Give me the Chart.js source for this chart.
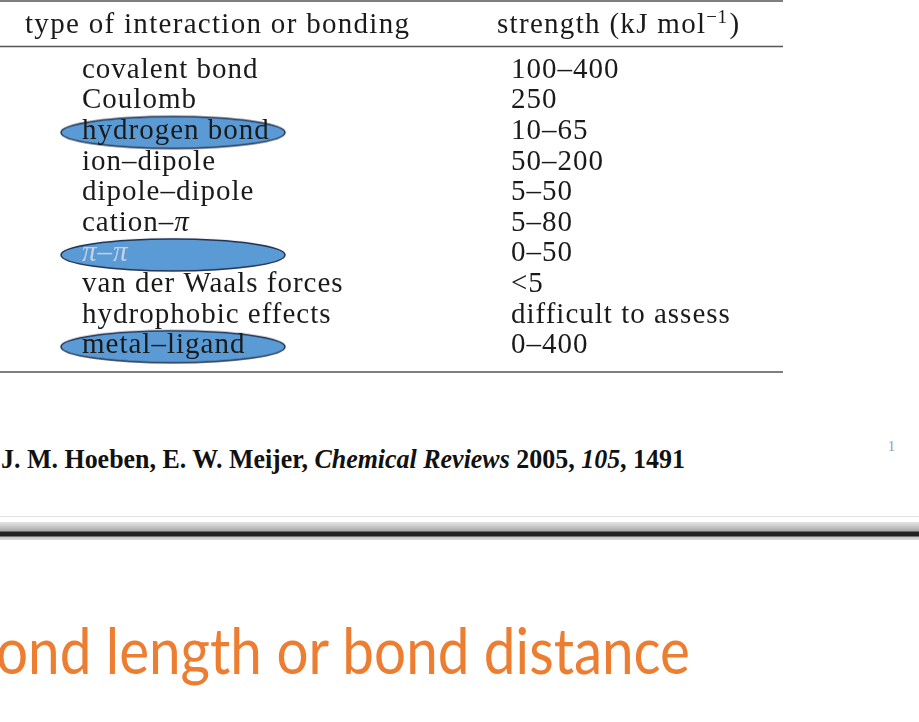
<!DOCTYPE html>
<html>
<head>
<meta charset="utf-8">
<script src="https://cdn.jsdelivr.net/npm/chart.js@4.4.1/dist/chart.umd.min.js"></script>
<style>
    body { margin: 0; width: 919px; height: 722px; overflow: hidden; background: #fff; position: relative; }
    #wrap { position: absolute; left: 0; top: 0; width: 919px; height: 400px; }
    #cite { position: absolute; left: 1px; top: 446px; font: bold 27px/27px "Liberation Serif", serif; color: #111; white-space: nowrap; transform-origin: 0 0; }
    #page { position: absolute; left: 888px; top: 440px; font: 14px/14px "Liberation Serif", serif; color: #999; }
    #thin { position: absolute; left: 0; top: 516px; width: 919px; height: 1px; background: #e2e2e2; }
    #band { position: absolute; left: 0; top: 522px; width: 919px; height: 18px;
        background: linear-gradient(#e4e4e4 0px, #d2d2d2 3px, #bdbdbd 6px, #a8a8a8 9px, #242424 10px, #202020 14px, #c4c4c4 15px, #dedede 18px); }
    #title { position: absolute; left: -4px; top: 618px; font: 63px/63px Lato, sans-serif; color: #ED7D31; white-space: nowrap; transform-origin: 0 0; }
</style>
</head>
<body>
<div id="wrap"><canvas id="table"></canvas></div>
<div id="cite">J. M. Hoeben, E. W. Meijer, <i>Chemical Reviews</i> 2005, <i>105</i>, 1491</div>
<div id="page">1</div>
<div id="thin"></div>
<div id="band"></div>
<div id="title">ond length or bond distance</div>
<script>
    // table contents
    const columns = ['type of interaction or bonding', 'strength (kJ mol⁻¹)'];
    const interactions = ['covalent bond', 'Coulomb', 'hydrogen bond', 'ion–dipole', 'dipole–dipole',
        'cation–π', 'π–π', 'van der Waals forces', 'hydrophobic effects', 'metal–ligand'];
    const strengths = ['100–400', '250', '10–65', '50–200', '5–50', '5–80', '0–50', '<5',
        'difficult to assess', '0–400'];
    const highlighted = ['hydrogen bond', 'π–π', 'metal–ligand'];

    const FONT = '"Liberation Serif", serif';

    // blue ellipse used as point style for the highlighted rows
    function ellipseImage() {
        const c = document.createElement('canvas');
        c.width = 230;
        c.height = 40;
        const g = c.getContext('2d');
        g.beginPath();
        g.ellipse(115, 22, 112, 16, 0, 0, Math.PI * 2);
        g.fillStyle = '#5B9BD5';
        g.fill();
        g.lineWidth = 1.5;
        g.strokeStyle = '#1F3050';
        g.stroke();
        return c;
    }

    // text with italic pi
    function drawRich(ctx, text, x, y, size) {
        const parts = text.split('π');
        parts.forEach((p, i) => {
            ctx.font = size + 'px ' + FONT;
            ctx.fillText(p, x, y);
            x += ctx.measureText(p).width;
            if (i < parts.length - 1) {
                ctx.font = 'italic ' + size + 'px ' + FONT;
                ctx.fillText('π', x, y);
                x += ctx.measureText('π').width;
            }
        });
    }

    const tableText = {
        id: 'tableText',
        afterDatasetsDraw(chart) {
            const ctx = chart.ctx;
            const area = chart.chartArea;
            const xs = chart.scales.x;
            const c0 = xs.getPixelForValue(0);
            const c1 = xs.getPixelForValue(1);
            const right = c1 + 264;
            ctx.save();
            ctx.textBaseline = 'alphabetic';
            ctx.textAlign = 'left';

            // rules
            ctx.strokeStyle = '#555';
            ctx.lineWidth = 1.5;
            [1, area.top - 7.5, area.bottom + 12].forEach(y => {
                ctx.beginPath();
                ctx.moveTo(0, y);
                ctx.lineTo(right, y);
                ctx.stroke();
            });

            // header
            ctx.fillStyle = '#1a1a1a';
            ctx.letterSpacing = '1.3px';
            const hy = area.top - 21;
            ctx.font = '29px ' + FONT;
            ctx.fillText(columns[0], c0 - 148, hy);
            const base = 'strength (kJ mol';
            ctx.fillText(base, c1 - 22, hy);
            let hx = c1 - 22 + ctx.measureText(base).width;
            ctx.font = '19px ' + FONT;
            ctx.letterSpacing = '0.5px';
            ctx.fillText('−1', hx, hy - 10);
            hx += ctx.measureText('−1').width + 2;
            ctx.letterSpacing = '1.3px';
            ctx.font = '29px ' + FONT;
            ctx.fillText(')', hx, hy);

            // cells, placed at the points of the two text datasets
            ctx.letterSpacing = '1px';
            const sources = [null, interactions, strengths];
            const indent = [0, -91, -8];
            [1, 2].forEach(d => {
                chart.getDatasetMeta(d).data.forEach((pt, i) => {
                    const label = sources[d][i];
                    ctx.fillStyle = (label === 'π–π') ? '#c6d2e2' : '#1a1a1a';
                    drawRich(ctx, label, pt.x + indent[d], pt.y + 8.5, 29);
                });
            });
            ctx.restore();
        }
    };

    new Chart(document.getElementById('table'), {
        type: 'scatter',
        data: {
            datasets: [
                {
                    label: 'highlighted',
                    data: highlighted.map(r => ({x: columns[0], y: r})),
                    pointStyle: ellipseImage(),
                    pointRadius: 10
                },
                {
                    label: 'interaction',
                    data: interactions.map(r => ({x: columns[0], y: r})),
                    pointRadius: 0
                },
                {
                    label: 'strength',
                    data: interactions.map(r => ({x: columns[1], y: r})),
                    pointRadius: 0
                }
            ]
        },
        options: {
            responsive: true,
            maintainAspectRatio: false,
            animation: false,
            events: [],
            layout: {autoPadding: false, padding: {top: 54, bottom: 40, left: 0, right: 227}},
            plugins: {legend: {display: false}, tooltip: {enabled: false}},
            scales: {
                x: {type: 'category', labels: columns, offset: true, display: false},
                y: {type: 'category', labels: interactions, offset: true, display: false}
            }
        },
        plugins: [tableText]
    });

    // fit slide texts to their widths in the picture
    function fitWidth(id, target) {
        const el = document.getElementById(id);
        const w = el.getBoundingClientRect().width;
        el.style.transform = 'scaleX(' + (target / w) + ')';
    }
    fitWidth('cite', 684);
    fitWidth('title', 694);
</script>
</body>
</html>
